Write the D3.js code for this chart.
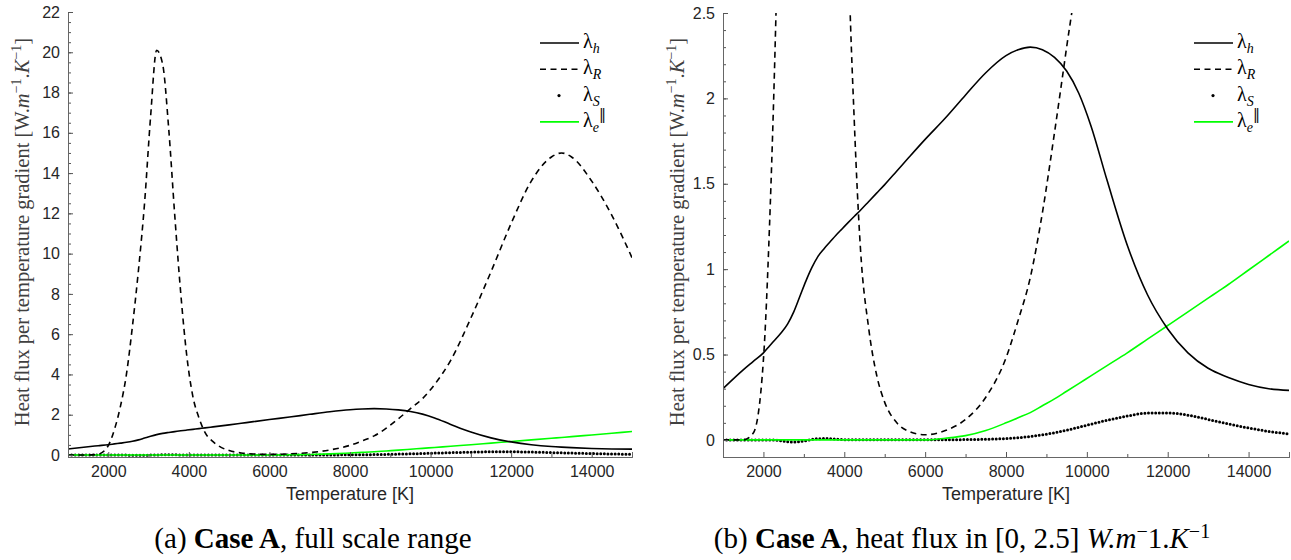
<!DOCTYPE html>
<html>
<head>
<meta charset="utf-8">
<script src="https://cdn.jsdelivr.net/npm/d3@7/dist/d3.min.js"></script>
<style>
body { margin: 0; background: #fff; }
svg { display: block; }
.tick text { font-family: "Liberation Sans", Arial, sans-serif; font-size: 16px; fill: #262626; }
.serif { font-family: "Liberation Serif", "DejaVu Serif", serif; }
</style>
</head>
<body>
<script>
// Temperature samples [K]
var temperature = [1000, 1500, 1750, 2000, 2150, 2300, 2450, 2600, 2750, 2900, 3050, 3200, 3350, 3500,
    3650, 3800, 3950, 4100, 4250, 4400, 4600, 4800, 5000, 5300, 5600, 6000, 6500, 7000, 7500, 8000,
    8300, 8600, 8900, 9200, 9500, 9800, 10100, 10500, 11000, 11500, 12000, 12500, 13000, 13250,
    13500, 14000, 14500, 15000];

// lambda_h (solid black)
var lambdaH = [0.30, 0.41, 0.46, 0.51, 0.55, 0.59, 0.63, 0.68, 0.75, 0.84, 0.93, 1.01, 1.075, 1.12,
    1.16, 1.20, 1.237, 1.274, 1.31, 1.345, 1.395, 1.445, 1.495, 1.575, 1.655, 1.76, 1.885, 2.02, 2.15, 2.25,
    2.285, 2.30, 2.285, 2.24, 2.16, 2.03, 1.84, 1.52, 1.14, 0.85, 0.65, 0.51, 0.42, 0.39,
    0.365, 0.325, 0.30, 0.29];

// lambda_R (dashed black)
var lambdaR = [0, 0, 0.04, 0.47, 1.25, 2.4, 4.0, 6.4, 9.2, 12.5, 16.8, 20.1, 19.4, 16.2,
    11.9, 8.0, 4.9, 2.9, 1.85, 1.12, 0.66, 0.38, 0.22, 0.1, 0.05, 0.03, 0.055, 0.12, 0.25, 0.48,
    0.7, 0.95, 1.33, 1.8, 2.3, 2.8, 3.5, 4.7, 6.8, 9.1, 11.5, 13.6, 14.8, 15.0,
    14.8, 13.6, 11.9, 9.8];

// lambda_S (dotted black)
var lambdaS = [0, 0, 0, 0, 0, -0.002, -0.005, -0.01, -0.012, -0.01, -0.004, 0.003, 0.007, 0.008,
    0.007, 0.004, 0.002, 0.001, 0.001, 0.001, 0.001, 0.001, 0.001, 0.001, 0.001, 0.001, 0.001, 0.002, 0.004, 0.008,
    0.013, 0.02, 0.03, 0.042, 0.057, 0.074, 0.092, 0.115, 0.14, 0.157, 0.158, 0.145, 0.12, 0.107,
    0.094, 0.07, 0.05, 0.035];

// lambda_e parallel (green)
var lambdaE = [0, 0, 0, 0, 0, 0, 0, 0, 0, 0, 0, 0, 0, 0,
    0, 0, 0, 0, 0, 0, 0, 0, 0, 0, 0, 0, 0.01, 0.025, 0.055, 0.1,
    0.13, 0.16, 0.2, 0.24, 0.285, 0.33, 0.375, 0.435, 0.51, 0.59, 0.67, 0.75, 0.83, 0.87,
    0.91, 0.995, 1.08, 1.165];

var xTicks = [2000, 4000, 6000, 8000, 10000, 12000, 14000];
var xMinorTicks = [1000, 3000, 5000, 7000, 9000, 11000, 13000, 15000];
var yTicksFull = [0, 2, 4, 6, 8, 10, 12, 14, 16, 18, 20, 22];
var yTicksZoom = [0, 0.5, 1, 1.5, 2, 2.5];

var outerWidth = 1291, outerHeight = 560;

var svg = d3.select("body").append("svg")
    .attr("width", outerWidth)
    .attr("height", outerHeight);

svg.append("rect").attr("width", "100%").attr("height", "100%").attr("fill", "white");

var series = [
    {key: "h", values: lambdaH, color: "#000", dash: null, dots: false},
    {key: "R", values: lambdaR, color: "#000", dash: "6,4.5", dots: false},
    {key: "S", values: lambdaS, color: "#000", dash: null, dots: true},
    {key: "e", values: lambdaE, color: "#00ff00", dash: null, dots: false}
];

function drawPanel(p) {
    var g = svg.append("g");
    var xScale = d3.scaleLinear().domain([1000, 15000]).range([p.left, p.right]);
    var yScale = d3.scaleLinear().domain(p.yDomain).range([p.bottom, p.top]);

    // clip to the plotting area
    g.append("clipPath").attr("id", p.id + "-clip")
        .append("rect")
        .attr("x", p.left).attr("y", p.top)
        .attr("width", p.right - p.left).attr("height", p.bottom - p.top);

    var line = d3.line()
        .x((d, i) => xScale(temperature[i]))
        .y(d => yScale(d))
        .curve(d3.curveMonotoneX);

    var plot = g.append("g").attr("clip-path", "url(#" + p.id + "-clip)");

    // draw order: dots, green, dashed, solid
    [series[2], series[3], series[1], series[0]].forEach(function (s) {
        var path = plot.append("path")
            .datum(s.values)
            .attr("d", line)
            .attr("fill", "none")
            .attr("stroke", s.color);
        if (s.dots) {
            path.attr("stroke-width", 3)
                .attr("stroke-linecap", "round")
                .attr("stroke-dasharray", "0,3.6");
        } else {
            path.attr("stroke-width", 1.6);
            if (s.dash) path.attr("stroke-dasharray", s.dash);
        }
    });

    // axes (ticks point inward like MATLAB)
    var xAxis = d3.axisBottom(xScale).tickValues(xTicks).tickSize(-5).tickPadding(9).tickFormat(d3.format("d"));
    var xMinor = d3.axisBottom(xScale).tickValues(xMinorTicks).tickSize(-3).tickFormat("");
    var yAxis = d3.axisLeft(yScale).tickValues(p.yTicks).tickSize(-5).tickPadding(8).tickFormat(d => String(d));
    var yMinor = d3.axisLeft(yScale).tickValues(p.yMinor).tickSize(-3).tickFormat("");

    [xMinor, xAxis].forEach(function (ax) {
        g.append("g").attr("transform", "translate(0," + p.bottom + ")").call(ax)
            .call(a => a.select(".domain").attr("stroke", "#666"))
            .call(a => a.selectAll(".tick line").attr("stroke", "#555"));
    });
    [yMinor, yAxis].forEach(function (ax) {
        g.append("g").attr("transform", "translate(" + p.left + ",0)").call(ax)
            .call(a => a.select(".domain").attr("stroke", "#666"))
            .call(a => a.selectAll(".tick line").attr("stroke", "#555"));
    });

    // x label
    g.append("text")
        .attr("x", (p.left + p.right) / 2)
        .attr("y", 500)
        .attr("text-anchor", "middle")
        .style("font-family", "'Liberation Sans', Arial, sans-serif")
        .style("font-size", "18px")
        .attr("fill", "#262626")
        .text("Temperature [K]");

    // y label
    var yl = g.append("text")
        .attr("transform", "translate(" + p.yLabelX + "," + p.yLabelY + ") rotate(-90)")
        .attr("text-anchor", "middle")
        .style("font-family", "'Liberation Serif', serif")
        .style("font-size", "20.5px")
        .attr("fill", "#404040");
    yl.append("tspan").text("Heat flux per temperature gradient [W.");
    yl.append("tspan").style("font-style", "italic").text("m");
    yl.append("tspan").attr("dy", -8).style("font-size", "14px").text("\u22121");
    yl.append("tspan").attr("dy", 8).text(".");
    yl.append("tspan").style("font-style", "italic").text("K");
    yl.append("tspan").attr("dy", -8).style("font-size", "14px").text("\u22121");
    yl.append("tspan").attr("dy", 8).text("]");

    // legend
    var lg = g.append("g").attr("transform", "translate(" + p.legendX + "," + p.legendY + ")");
    series.forEach(function (s, i) {
        var y = i * 26.3;
        if (s.dots) {
            lg.append("circle").attr("cx", 19).attr("cy", y).attr("r", 1.6).attr("fill", "#000");
        } else {
            lg.append("line").attr("x1", 0).attr("x2", 39).attr("y1", y).attr("y2", y)
                .attr("stroke", s.color).attr("stroke-width", 1.6)
                .attr("stroke-dasharray", s.dash);
        }
        var t = lg.append("text").attr("class", "serif")
            .attr("x", 43).attr("y", y + 5)
            .style("font-size", "20px").attr("fill", "#000");
        t.append("tspan").text("\u03bb");
        t.append("tspan").attr("dy", 5).style("font-size", "14px").style("font-style", "italic").text(s.key);
        if (s.key === "e") {
            t.append("tspan").attr("dy", -13).style("font-size", "14px")
                .style("font-family", "'DejaVu Serif', serif").text("\u2016");
        }
    });

    // caption
    var cap = svg.append("text").attr("class", "serif")
        .attr("x", p.captionX).attr("y", 548)
        .attr("text-anchor", "middle")
        .style("font-size", "29px").attr("fill", "#000");
    p.caption(cap);
}

drawPanel({
    id: "full",
    left: 68, right: 632, top: 12, bottom: 457,
    yDomain: [-0.1, 22],
    yTicks: yTicksFull,
    yMinor: d3.range(0, 22.01, 0.5),
    yLabelX: 29, yLabelY: 232,
    legendX: 540, legendY: 43,
    captionX: 313,
    caption: function (t) {
        t.append("tspan").text("(a) ");
        t.append("tspan").style("font-weight", "bold").text("Case A");
        t.append("tspan").text(", full scale range");
    }
});

drawPanel({
    id: "zoom",
    left: 723, right: 1289, top: 13, bottom: 457,
    yDomain: [-0.1, 2.5],
    yTicks: yTicksZoom,
    yMinor: d3.range(-0.1, 2.51, 0.1).map(d => Math.round(d * 10) / 10),
    yLabelX: 684, yLabelY: 232,
    legendX: 1194, legendY: 43,
    captionX: 962,
    caption: function (t) {
        t.append("tspan").text("(b) ");
        t.append("tspan").style("font-weight", "bold").text("Case A");
        t.append("tspan").text(", heat flux in [0, 2.5] ");
        t.append("tspan").style("font-style", "italic").text("W.m");
        t.append("tspan").attr("dy", -10).style("font-size", "20px").text("\u2212");
        t.append("tspan").attr("dy", 10).text("1.");
        t.append("tspan").style("font-style", "italic").text("K");
        t.append("tspan").attr("dy", -10).style("font-size", "20px").text("\u22121");
    }
});
</script>
</body>
</html>
